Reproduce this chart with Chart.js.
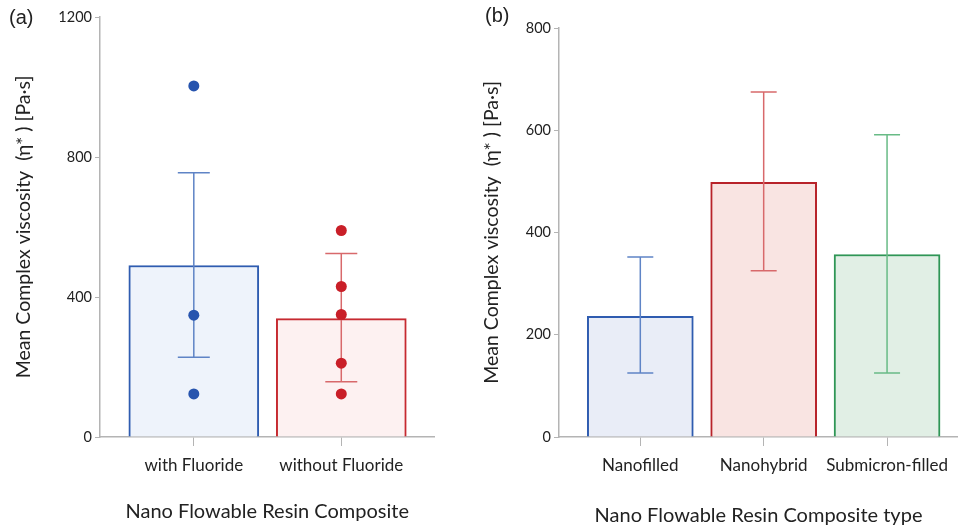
<!DOCTYPE html>
<html>
<head>
<meta charset="utf-8">
<script src="https://cdn.jsdelivr.net/npm/chart.js@4/dist/chart.umd.min.js"></script>
<style>
    body { margin: 0; background: #fff; }
    #wrap { position: relative; width: 958px; height: 530px; overflow: hidden; }
    .panel { position: absolute; top: 0; height: 530px; }
    .tag { position: absolute; font-family: "Liberation Sans", Arial, sans-serif; font-size: 20px; color: #222; }
</style>
</head>
<body>
<div id="wrap">
    <div class="panel" style="left:0;width:440px"><canvas id="chartA"></canvas></div>
    <div class="panel" style="left:470px;width:488px"><canvas id="chartB"></canvas></div>
    <div class="tag" style="left:9px;top:6px">(a)</div>
    <div class="tag" style="left:485px;top:4px">(b)</div>
</div>
<script>
// panel (a)
const catsA = ['with Fluoride', 'without Fluoride'];
const meanA = [490, 338];
const lowA = [228, 158];
const highA = [755, 524];
const ptsWith = [1003, 348, 123];
const ptsWithout = [590, 430, 350, 211, 123];
const ticksA = [0, 400, 800, 1200];

// panel (b)
const catsB = ['Nanofilled', 'Nanohybrid', 'Submicron-filled'];
const meanB = [236, 498, 357];
const lowB = [125, 325, 125];
const highB = [352, 675, 591];
const ticksB = [0, 200, 400, 600, 800];

const yTitle = 'Mean Complex viscosity  (\u03B7* ) [Pa\u00B7s]';
const FONT = 'Lato, "Open Sans", sans-serif';
const AXIS = '#b4b4b4';
const TEXT = '#222222';

function errorBarPlugin(low, high, colors, capHalf) {
    return {
        id: 'errorBars',
        afterDatasetDraw(chart, args) {
            if (args.index !== 0) return;
            const ctx = chart.ctx;
            const xs = chart.scales.x;
            const ys = chart.scales.y;
            ctx.save();
            ctx.lineWidth = 1.5;
            low.forEach((lo, i) => {
                const x = xs.getPixelForValue(i);
                const y1 = ys.getPixelForValue(lo);
                const y2 = ys.getPixelForValue(high[i]);
                ctx.strokeStyle = colors[i];
                ctx.beginPath();
                ctx.moveTo(x, y1);
                ctx.lineTo(x, y2);
                ctx.moveTo(x - capHalf, y1);
                ctx.lineTo(x + capHalf, y1);
                ctx.moveTo(x - capHalf, y2);
                ctx.lineTo(x + capHalf, y2);
                ctx.stroke();
            });
            ctx.restore();
        }
    };
}

function buildOptions(cats, xTitle, yTicks, xMin, xMax, yWidth, titlePadTop, xTitlePadBottom, top) {
    return {
        responsive: true,
        maintainAspectRatio: false,
        animation: false,
        layout: { padding: { top: top, right: 0, left: 0, bottom: 0 } },
        plugins: { legend: { display: false }, tooltip: { enabled: false } },
        scales: {
            x: {
                type: 'linear',
                offset: false,
                min: xMin,
                max: xMax,
                afterBuildTicks: (axis) => { axis.ticks = cats.map((c, i) => ({ value: i })); },
                afterFit: (axis) => { axis.height = 93; },
                ticks: {
                    callback: (v) => cats[v],
                    font: { family: FONT, size: 17 },
                    color: TEXT,
                    padding: 9,
                    maxRotation: 0,
                    autoSkip: false
                },
                grid: { offset: false, drawOnChartArea: false, drawTicks: true, tickLength: 9, color: AXIS },
                border: { color: AXIS, width: 1.5 },
                title: {
                    display: true,
                    text: xTitle,
                    font: { family: FONT, size: 20 },
                    color: TEXT,
                    padding: { top: 0, bottom: xTitlePadBottom }
                }
            },
            y: {
                min: yTicks[0],
                max: yTicks[yTicks.length - 1],
                afterBuildTicks: (axis) => { axis.ticks = yTicks.map(v => ({ value: v })); },
                afterFit: (axis) => { axis.width = yWidth; },
                ticks: {
                    callback: (v) => String(v),
                    font: { family: FONT, size: 14.5 },
                    color: TEXT,
                    padding: 3
                },
                grid: { drawOnChartArea: false, drawTicks: true, tickLength: 5, color: AXIS },
                border: { color: AXIS, width: 1.5 },
                title: {
                    display: true,
                    text: yTitle,
                    font: { family: FONT, size: 19.5 },
                    color: TEXT,
                    padding: { top: titlePadTop, bottom: 0 }
                }
            }
        }
    };
}

new Chart(document.getElementById('chartA'), {
    type: 'bar',
    data: {
        datasets: [
            {
                data: meanA.map((y, i) => ({ x: i, y: y })),
                backgroundColor: ['#eef3fb', '#fdf1f1'],
                borderColor: ['#2f5cb0', '#c62a30'],
                borderWidth: 2,
                barThickness: 130,
                order: 3
            },
            {
                type: 'scatter',
                data: ptsWith.map(y => ({ x: 0, y: y })),
                pointRadius: 5.5,
                pointBackgroundColor: '#2754ae',
                pointBorderWidth: 0,
                order: 1
            },
            {
                type: 'scatter',
                data: ptsWithout.map(y => ({ x: 1, y: y })),
                pointRadius: 5.5,
                pointBackgroundColor: '#c91f28',
                pointBorderWidth: 0,
                order: 1
            }
        ]
    },
    options: buildOptions(catsA, 'Nano Flowable Resin Composite', ticksA, -0.636, 1.632, 100, 12, 6, 17),
    plugins: [errorBarPlugin(lowA, highA, ['#5f84c6', '#d8696b'], 16)]
});

new Chart(document.getElementById('chartB'), {
    type: 'bar',
    data: {
        datasets: [
            {
                data: meanB.map((y, i) => ({ x: i, y: y })),
                backgroundColor: ['#e9edf7', '#f9e4e2', '#e1efe5'],
                borderColor: ['#2f5cb0', '#b8232a', '#2f9656'],
                borderWidth: 2,
                barThickness: 106
            }
        ]
    },
    options: buildOptions(catsB, 'Nano Flowable Resin Composite type', ticksB, -0.659, 2.575, 89, 10, 2, 28),
    plugins: [errorBarPlugin(lowB, highB, ['#5f84c6', '#d8696b', '#68bb86'], 13)]
});
</script>
</body>
</html>
